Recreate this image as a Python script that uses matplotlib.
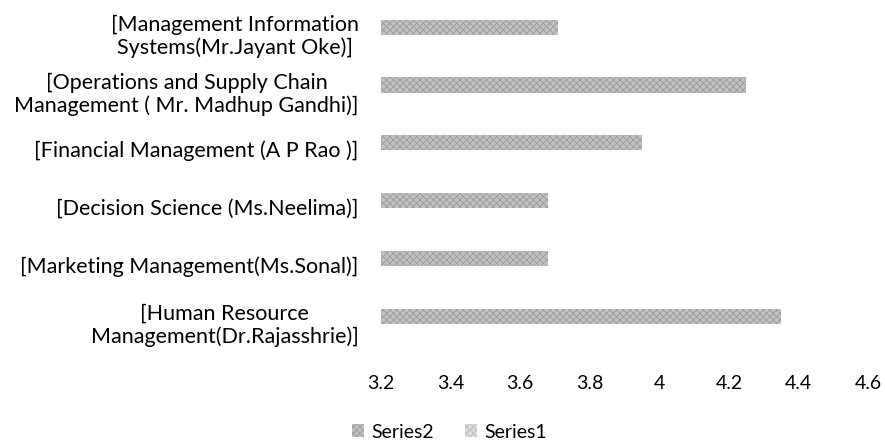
import matplotlib
matplotlib.use("Agg")
import matplotlib.pyplot as plt
import numpy as np

categories = [
    "[Human Resource\nManagement(Dr.Rajasshrie)]",
    "[Marketing Management(Ms.Sonal)]",
    "[Decision Science (Ms.Neelima)]",
    "[Financial Management (A P Rao )]",
    "[Operations and Supply Chain\nManagement ( Mr. Madhup Gandhi)]",
    "[Management Information\nSystems(Mr.Jayant Oke)]",
]
series2 = [4.35, 3.68, 3.68, 3.95, 4.25, 3.71]
series1 = [0, 0, 0, 0, 0, 0]
xticks = [3.2, 3.4, 3.6, 3.8, 4.0, 4.2, 4.4, 4.6]
xticklabels = ["3.2", "3.4", "3.6", "3.8", "4", "4.2", "4.4", "4.6"]

plt.rcParams['font.family'] = ['Lato', 'DejaVu Sans']
plt.rcParams['hatch.linewidth'] = 0.6

fig = plt.figure(figsize=(8.85, 4.44), dpi=100)
ax = fig.add_axes([0.4305, 0.209, 0.5505, 0.782])

y = np.arange(len(categories))
h = 0.26
b2 = ax.barh(y + 0.1, series2, height=h, color='#c2c2c2', hatch='xxxxx',
             edgecolor='#9a9a9a', linewidth=0, label='Series2')
b1 = ax.barh(y + 0.1 - h, series1, height=h, color='#dcdcdc', hatch='xxxxx',
             edgecolor='#bcbcbc', linewidth=0, label='Series1')

ax.set_xlim(3.2, 4.6)
ax.set_ylim(-0.5, len(categories) - 0.5)
ax.set_xticks(xticks)
ax.set_xticklabels(xticklabels, fontsize=14)
ax.set_yticks(y)
ax.set_yticklabels(categories, fontsize=15.5, multialignment='center', linespacing=1.15)
ax.tick_params(axis='both', length=0)
ax.tick_params(axis='x', pad=17)
ax.tick_params(axis='y', pad=16)
for s in ax.spines.values():
    s.set_visible(False)

leg = fig.legend(handles=[b2, b1], labels=['Series2', 'Series1'], loc='center',
                 bbox_to_anchor=(0.508, 0.027), ncol=2, frameon=False, fontsize=14,
                 handlelength=0.6, handleheight=0.6, handletextpad=0.4, columnspacing=1.6)

fig.savefig("out.png", dpi=100)
